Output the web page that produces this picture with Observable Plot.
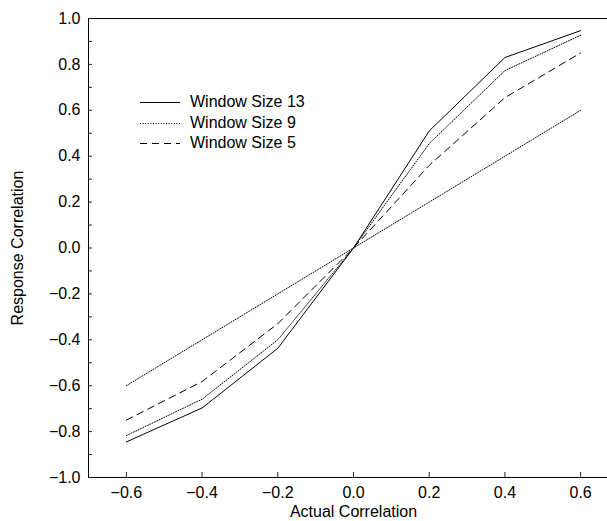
<!DOCTYPE html>
<html>
<head>
<meta charset="utf-8">
<script src="https://cdn.jsdelivr.net/npm/d3@7"></script>
<script src="https://cdn.jsdelivr.net/npm/@observablehq/plot@0.6"></script>
<style>
  html, body { margin: 0; padding: 0; background: #fff; overflow: hidden; }
  #wrap { position: relative; width: 607px; height: 521px; overflow: hidden; font-family: "Liberation Sans", Arial, sans-serif; }
  #chart svg { max-width: none !important; }
  #legend { position: absolute; left: 140px; top: 92px; font-size: 16px; color: #000; }
  #legend .row { display: flex; align-items: center; height: 20.5px; }
  #legend svg { width: 42px; height: 10px; margin-right: 8px; }
  #ylabel { position: absolute; left: 18px; top: 247.5px; font-size: 16px; color: #000; white-space: nowrap;
            transform: translate(-50%, -50%) rotate(-90deg); line-height: 1; }
</style>
</head>
<body>
<div id="wrap"><div id="chart"></div><div id="legend"></div><div id="ylabel"></div></div>
<script>
// Data
const actual = [-0.6, -0.4, -0.2, 0.0, 0.2, 0.4, 0.6];
const window13 = [-0.845, -0.697, -0.437, 0.0, 0.51, 0.83, 0.947];
const window9 = [-0.817, -0.659, -0.40, 0.0, 0.455, 0.773, 0.927];
const window5 = [-0.75, -0.582, -0.33, 0.0, 0.36, 0.655, 0.85];
const reference = [-0.6, -0.4, -0.2, 0.0, 0.2, 0.4, 0.6];

const seriesNames = ["Window Size 13", "Window Size 9", "Window Size 5"];
const xTicks = [-0.6, -0.4, -0.2, 0.0, 0.2, 0.4, 0.6];
const yTicks = [-1.0, -0.8, -0.6, -0.4, -0.2, 0.0, 0.2, 0.4, 0.6, 0.8, 1.0];
const yMinorTicks = [-0.9, -0.7, -0.5, -0.3, -0.1, 0.1, 0.3, 0.5, 0.7, 0.9];
const xLabel = "Actual Correlation";
const yLabel = "Response Correlation";

const dashes = { "Window Size 13": null, "Window Size 9": "1,1.6", "Window Size 5": "7,5" };

const toRows = (ys) => actual.map((x, i) => ({ x, y: ys[i] }));
const fmt = (d) => (d < 0 ? "\u2212" : "") + Math.abs(d).toFixed(1);

const W = 620, H = 521, ML = 88, MR = 2, MT = 18, MB = 44;
const frameW = W - ML - MR, frameH = H - MT - MB;

const chart = Plot.plot({
  width: W,
  height: H,
  marginLeft: ML,
  marginTop: MT,
  marginBottom: MB,
  marginRight: MR,
  style: { fontFamily: "'Liberation Sans', Arial, sans-serif", fontSize: "16px", background: "#fff", overflow: "visible", maxWidth: "none" },
  x: { domain: [-0.7, 0.7] },
  y: { domain: [-1, 1] },
  marks: [
    Plot.frame({ stroke: "#000", strokeWidth: 1 }),
    Plot.axisX({ ticks: xTicks, tickSize: 0, tickPadding: 9, tickFormat: fmt, label: null, fontSize: 16 }),
    Plot.axisY({ ticks: yTicks, tickSize: 0, tickPadding: 8, tickFormat: fmt, label: null, fontSize: 16 }),
    // inward ticks
    Plot.tickX(xTicks, { x: (d) => d, insetTop: frameH - 5, stroke: "#222" }),
    Plot.tickY(yTicks, { y: (d) => d, insetRight: frameW - 4, stroke: "#222" }),
    Plot.tickY(yMinorTicks, { y: (d) => d, insetRight: frameW - 4, stroke: "#222" }),
    Plot.text([xLabel], { frameAnchor: "bottom", dy: 39, fontSize: 16, fill: "#000" }),
    Plot.line(toRows(reference), { x: "x", y: "y", stroke: "#000", strokeWidth: 1, strokeDasharray: "1,1.6" }),
    Plot.line(toRows(window5), { x: "x", y: "y", stroke: "#000", strokeWidth: 1, strokeDasharray: dashes["Window Size 5"] }),
    Plot.line(toRows(window9), { x: "x", y: "y", stroke: "#000", strokeWidth: 1, strokeDasharray: dashes["Window Size 9"] }),
    Plot.line(toRows(window13), { x: "x", y: "y", stroke: "#000", strokeWidth: 1 })
  ]
});
document.getElementById("chart").appendChild(chart);
document.getElementById("ylabel").textContent = yLabel;

// Legend
const legend = d3.select("#legend");
seriesNames.forEach((name) => {
  const row = legend.append("div").attr("class", "row");
  const svg = row.append("svg").attr("viewBox", "0 0 42 10");
  svg.append("line").attr("x1", 0).attr("x2", 40).attr("y1", 5.5).attr("y2", 5.5)
    .attr("stroke", "#000").attr("stroke-width", 1)
    .attr("stroke-dasharray", dashes[name]);
  row.append("span").text(name);
});
</script>
</body>
</html>
